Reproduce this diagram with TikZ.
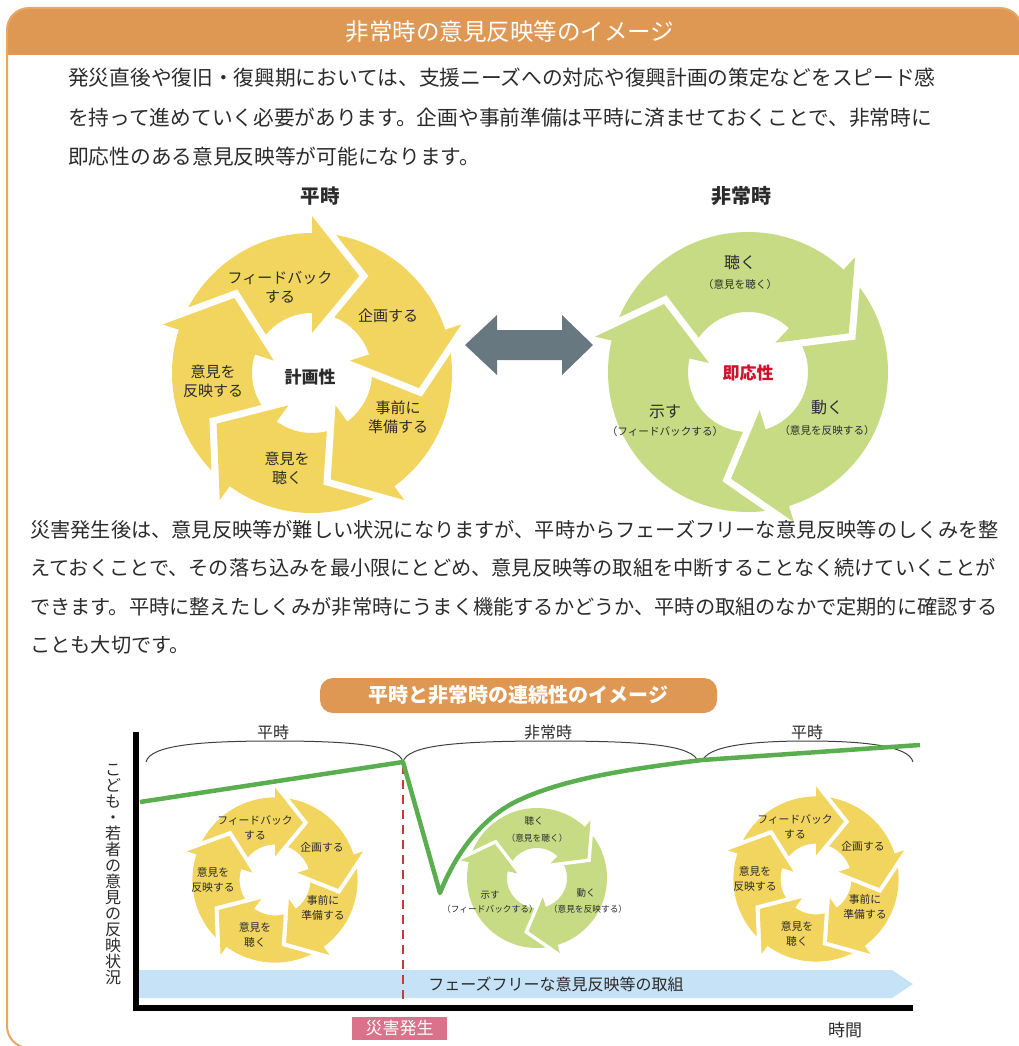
\documentclass[tikz,border=0pt]{standalone}
\usepackage{fontspec}
\setmainfont{Noto Sans CJK JP}
\definecolor{hdr}{HTML}{DE9853}
\definecolor{framecol}{HTML}{E9A766}
\definecolor{yel}{HTML}{F2D55F}
\definecolor{grn}{HTML}{C7DB85}
\definecolor{arrowgray}{HTML}{687880}
\definecolor{blueband}{HTML}{C6E2F6}
\definecolor{pinkbox}{HTML}{D9728A}
\definecolor{linegreen}{HTML}{5BAE4F}
\definecolor{reddash}{HTML}{C43B3B}
\definecolor{txt}{HTML}{2B2B2B}
\definecolor{redtxt}{HTML}{D0112B}
\tikzset{
  bodytext/.style={anchor=base west, inner sep=0, font=\fontsize{20.2}{24}\selectfont, text=txt},
  bodytextA/.style={anchor=base west, inner sep=0, font=\fontsize{20.7}{24}\selectfont, text=txt},
  lbl/.style={inner sep=0, align=center, text=txt},
  bigy/.style={lbl, font=\fontsize{15}{19}\selectfont},
  smally/.style={lbl, font=\fontsize{10.8}{15}\selectfont},
  bigg/.style={lbl, font=\fontsize{16}{18}\selectfont},
  biggsub/.style={lbl, font=\fontsize{10.6}{12}\selectfont},
  smallg/.style={lbl, font=\fontsize{9.5}{11}\selectfont},
  smallgsub/.style={lbl, font=\fontsize{8.7}{10}\selectfont},
  bracecurve/.style={draw=black!75, line width=1pt},
}
\newcommand\ringcyc[6]{%
  \begin{scope}[shift={(#1,-#2)}, scale=#3]
    \fill[#4, even odd rule] (0,0) circle[radius=140] (0,0) circle[radius=60];
    \foreach \k in {1,...,#5}{
      \pgfmathsetmacro\hh{#6-(\k-1)*360/#5}
      \draw[white, line width={#3*14pt}, line join=miter] ({\hh}:157) -- ({\hh-26}:108) -- ({\hh}:40);
      \fill[#4] ({\hh}:157) -- ({\hh-26}:108) -- ({\hh}:40) -- cycle;
    }
  \end{scope}}
\begin{document}
\begin{tikzpicture}[x=1pt,y=1pt]
\useasboundingbox (0,0) rectangle (1019,-1046);
% header band and frame
\begin{scope}
  \clip (0,-55) rectangle (1019,0);
  \fill[hdr, rounded corners=20pt] (7,-1048) rectangle (1022,-8);
\end{scope}
\draw[framecol, line width=2pt, rounded corners=22pt] (40,-1048) -- (7,-1048) -- (7,-8) -- (1022,-8) -- (1022,-40);
\node[inner sep=0, text=white, font=\fontsize{23.5}{26}\selectfont] (title) at (510,-32) {非常時の意見反映等のイメージ};

% first paragraph
\node[bodytextA] (p1a) at (68,-85.7) {発災直後や復旧・復興期においては、支援ニーズへの対応や復興計画の策定などをスピード感};
\node[bodytextA] (p1b) at (68,-125.7) {を持って進めていく必要があります。企画や事前準備は平時に済ませておくことで、非常時に};
\node[bodytextA] (p1c) at (68,-164.7) {即応性のある意見反映等が可能になります。};

% headings
\node[lbl, font=\bfseries\fontsize{19.5}{21}\selectfont] (hPeace) at (320,-196) {平時};
\node[lbl, font=\bfseries\fontsize{20}{21}\selectfont] (hEmerg) at (741,-196) {非常時};

% big cycles
\ringcyc{312}{373}{1}{yel}{5}{90}
\ringcyc{748}{372}{1}{grn}{3}{167}

\node[bigy] (yA) at (280,-287.5) {フィードバック\\する};
\node[bigy] (yB) at (388,-316) {企画する};
\node[bigy] (yC) at (398,-417.5) {事前に\\準備する};
\node[bigy] (yD) at (287,-468) {意見を\\聴く};
\node[bigy] (yE) at (213,-381.5) {意見を\\反映する};
\node[lbl, font=\bfseries\fontsize{17}{19}\selectfont] (yCenter) at (310,-377) {計画性};

\node[bigg] (gA) at (740,-262) {聴く};
\node[biggsub] (gAs) at (740,-284) {（意見を聴く）};
\node[lbl, text=redtxt, font=\bfseries\fontsize{17}{19}\selectfont] (gCenter) at (748,-373) {即応性};
\node[bigg] (gB) at (665,-412) {示す};
\node[biggsub] (gBs) at (665,-431) {（フィードバックする）};
\node[bigg] (gC) at (827,-408) {動く};
\node[biggsub] (gCs) at (827,-430) {（意見を反映する）};

% double arrow
\fill[arrowgray] (465,-345) -- (497,-315) -- (497,-330) -- (562,-330) -- (562,-315) -- (593,-345)
  -- (562,-375) -- (562,-360) -- (497,-360) -- (497,-375) -- cycle;

% second paragraph
\node[bodytext] (p2a) at (30,-537.7) {災害発生後は、意見反映等が難しい状況になりますが、平時からフェーズフリーな意見反映等のしくみを整};
\node[bodytext] (p2b) at (30,-575.7) {えておくことで、その落ち込みを最小限にとどめ、意見反映等の取組を中断することなく続けていくことが};
\node[bodytext] (p2c) at (30,-614.7) {できます。平時に整えたしくみが非常時にうまく機能するかどうか、平時の取組のなかで定期的に確認する};
\node[bodytext] (p2d) at (30,-652.7) {ことも大切です。};

% chart title
\node[fill=hdr, rounded corners=13pt, minimum width=397pt, minimum height=35pt, inner sep=0,
  text=white, font=\bfseries\fontsize{20}{22}\selectfont] (ctitle) at (518.5,-695.5) {平時と非常時の連続性のイメージ};

% braces
\draw[bracecurve] (146,-762) .. controls (150,-745) and (200,-741) .. (275,-741) .. controls (350,-741) and (399,-745) .. (403,-762);
\draw[bracecurve] (403,-762) .. controls (407,-745) and (457,-741) .. (550.5,-741) .. controls (644,-741) and (694,-745) .. (698,-762);
\draw[bracecurve] (702,-762) .. controls (706,-745) and (756,-741) .. (807.5,-741) .. controls (859,-741) and (909,-745) .. (913,-762);
\node[lbl, font=\fontsize{16}{18}\selectfont] (bA) at (273,-732) {平時};
\node[lbl, font=\fontsize{16}{18}\selectfont] (bB) at (548,-732) {非常時};
\node[lbl, font=\fontsize{16}{18}\selectfont] (bC) at (807,-732) {平時};

% blue band
\fill[blueband] (139,-970) -- (892,-970) -- (913,-984) -- (892,-998) -- (139,-998) -- cycle;
\node[lbl, font=\fontsize{16}{18}\selectfont] (band) at (556,-984) {フェーズフリーな意見反映等の取組};

% small cycles
\ringcyc{275}{880}{0.59}{yel}{5}{90}
\ringcyc{537}{878}{0.5}{grn}{3}{167}
\ringcyc{816}{879}{0.59}{yel}{5}{90}

\node[smally] (sA1) at (255,-827.5) {フィードバック\\する};
\node[smally] (sB1) at (322,-847) {企画する};
\node[smally] (sC1) at (323,-907.5) {事前に\\準備する};
\node[smally] (sD1) at (255,-934.5) {意見を\\聴く};
\node[smally] (sE1) at (213,-879.5) {意見を\\反映する};

\node[smally] (sA2) at (795,-827) {フィードバック\\する};
\node[smally] (sB2) at (863,-846) {企画する};
\node[smally] (sC2) at (865,-907) {事前に\\準備する};
\node[smally] (sD2) at (797,-934) {意見を\\聴く};
\node[smally] (sE2) at (755,-879) {意見を\\反映する};

\node[smallg] (tA) at (534,-821) {聴く};
\node[smallgsub] (tAs) at (537,-838) {（意見を聴く）};
\node[smallg] (tB) at (490,-895) {示す};
\node[smallgsub] (tBs) at (490,-909) {（フィードバックする）};
\node[smallg] (tC) at (586,-893) {動く};
\node[smallgsub] (tCs) at (588,-909) {（意見を反映する）};

% red dashed line
\draw[reddash, line width=2.5pt, dash pattern=on 9pt off 6pt] (403,-765) -- (403,-1005);

% green line
\draw[linegreen, line width=4.5pt, line join=round] (140,-802) -- (403,-762) -- (440,-893)
  .. controls (455,-855) and (480,-820) .. (515,-802)
  .. controls (560,-780) and (620,-770) .. (702,-760) -- (920,-745);

% axes
\draw[line width=6pt] (136,-732) -- (136,-1008) -- (913,-1008);

% y-axis label
\node[lbl, font=\fontsize{16}{16}\selectfont] (ylab) at (113,-875)
  {こ\\ど\\も\\・\\若\\者\\の\\意\\見\\の\\反\\映\\状\\況};

% bottom labels
\node[fill=pinkbox, minimum width=95pt, minimum height=23pt, inner sep=0, text=white,
  font=\fontsize{17}{18}\selectfont] (disaster) at (399.5,-1028.5) {災害発生};
\node[lbl, font=\fontsize{17}{18}\selectfont] (timelab) at (845,-1030) {時間};
\end{tikzpicture}
\end{document}
